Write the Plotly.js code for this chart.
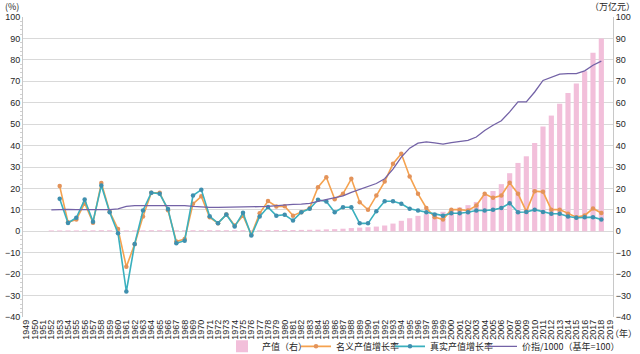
<!DOCTYPE html>
<html>
<head>
<meta charset="utf-8">
<script src="https://cdn.plot.ly/plotly-3.0.1.min.js"></script>
<style>html,body{margin:0;padding:0;background:#fff;}#chart{width:640px;height:354px;}</style>
</head>
<body>
<div id="chart"></div>
<script>
const years = [];
for (let y = 1949; y <= 2019; y++) years.push(String(y));

// 产值（右），万亿元 (1949–2019)
const output = [null,null,null,
  0.4,0.4,0.4,0.4,0.45,0.45,0.5,0.5,0.5,0.45,
  0.45,0.45,0.5,0.5,0.5,0.5,0.5,0.5,0.5,0.5,
  0.5,0.5,0.5,0.5,0.5,0.5,0.55,0.6,0.6,0.6,
  0.65,0.7,0.75,0.9,1.0,1.2,1.5,1.7,1.9,2.2,
  2.7,3.6,4.9,6.1,7.2,8.0,8.5,9.1,10.0,11.1,
  12.2,13.7,17.0,18.8,22.0,27.1,31.9,35.0,41.2,48.9,
  54.0,59.5,64.5,69.0,74.7,83.3,90.0,null];

// 名义产值增长率 (%)
const nominal = [null,null,null,null,
  21.1,4.2,5.5,13.1,4.0,22.5,9.2,1.1,-16.6,-6.0,
  6.9,18.0,18.0,9.8,-4.8,-3.6,12.8,16.3,6.5,3.8,
  7.8,2.7,7.3,-1.6,8.4,14.1,11.6,11.7,7.3,8.9,
  10.8,20.6,25.2,15.0,17.5,24.5,13.6,10.0,16.7,23.2,
  31.5,36.2,25.6,17.5,10.9,6.6,5.5,10.1,10.1,9.7,
  12.0,17.5,15.6,16.7,22.6,17.5,9.3,18.7,18.4,10.1,
  10.1,8.2,6.6,7.4,10.6,8.5,null];

// 真实产值增长率 (%)
const real = [null,null,null,null,
  15.2,3.9,6.3,14.8,4.5,21.4,8.9,-0.9,-28.1,-5.9,
  9.7,18.0,17.5,10.4,-5.6,-4.4,16.7,19.4,7.0,3.8,
  7.8,2.2,8.6,-2.0,6.9,11.3,7.3,7.7,5.0,8.9,
  10.5,14.7,13.9,8.9,11.2,11.2,3.7,3.7,9.4,14.0,
  14.0,12.8,10.5,9.7,8.9,7.8,7.3,8.4,8.4,8.9,
  9.7,9.7,10.0,10.9,13.1,8.9,9.0,10.1,9.0,8.2,
  8.2,6.9,6.3,6.6,6.6,5.5,null];

// 价指/1000（基年=100）
const priceIdx = [null,null,null,
  10.0,10.2,10.2,10.1,10.1,10.1,10.1,10.1,10.5,11.6,
  12.0,12.0,12.0,11.9,11.8,12.0,12.0,11.6,11.3,11.2,
  11.2,11.2,11.3,11.3,11.4,11.5,11.6,12.0,12.3,12.6,
  12.7,13.0,14.0,14.8,15.5,16.5,18.2,19.5,20.8,22.3,
  24.5,29.0,34.6,38.8,41.1,41.7,41.3,40.7,41.4,42.0,
  42.4,44.0,47.0,49.5,51.6,55.7,60.4,60.4,65.0,70.4,
  71.8,73.3,73.6,73.6,74.9,77.5,79.4,null];

const FONT = 'Liberation Sans, Arial, Noto Sans CJK SC, sans-serif';
const CJK = 'Noto Sans CJK SC, Liberation Sans, sans-serif';

const traces = [
  {type:'bar', name:'产值（右）', x:years, y:output, yaxis:'y', legend:'legend',
   marker:{color:'#f2bfda'}, hoverinfo:'skip'},
  {type:'scatter', mode:'lines+markers', name:'名义产值增长率', x:years, y:nominal, yaxis:'y2', legend:'legend2',
   line:{color:'#f5a24f', width:1.6}, marker:{color:'#e3935a', size:4.5, symbol:'circle'}},
  {type:'scatter', mode:'lines+markers', name:'真实产值增长率', x:years, y:real, yaxis:'y2', legend:'legend3',
   line:{color:'#3ab0be', width:1.6}, marker:{color:'#3f8fae', size:4.5, symbol:'circle'}},
  {type:'scatter', mode:'lines', name:'价指/1000（基年=100）', x:years, y:priceIdx, yaxis:'y2', legend:'legend4',
   line:{color:'#7362a6', width:1.3}}
];

// plot area: x 23..613 px, y 17..316.7 px
function leg(px) {
  return {orientation:'h', xref:'paper', yref:'paper', x:(px-23)/590, xanchor:'left',
    y:(316.7-346)/299.7, yanchor:'middle', font:{family:CJK, size:9, color:'#262626'},
    itemwidth:30, bgcolor:'rgba(0,0,0,0)', borderwidth:0};
}

const layout = {
  width:640, height:354,
  margin:{l:23, r:27, t:17, b:37, pad:0, autoexpand:false},
  paper_bgcolor:'#ffffff', plot_bgcolor:'#ffffff',
  font:{family:FONT, size:9, color:'#262626'},
  bargap:0.38,
  showlegend:true,
  legend:leg(222), legend2:leg(296), legend3:leg(390), legend4:leg(482),
  xaxis:{type:'category', categoryorder:'array', categoryarray:years,
    range:[-0.4, 70.4], tickmode:'linear', tick0:0, dtick:1, tickangle:-90,
    tickfont:{family:FONT, size:9, color:'#262626'}, showgrid:false, zeroline:false,
    showline:false, ticks:'', automargin:false, fixedrange:true},
  yaxis:{range:[-40,100], dtick:10, tick0:0, gridcolor:'#d9d9d9', gridwidth:1,
    zeroline:false, showline:true, linecolor:'#c8c8c8', linewidth:1, ticks:'',
    minor:{ticks:'outside', ticklen:2, dtick:2, tickcolor:'#d0d0d0', showgrid:false},
    tickfont:{family:FONT, size:9, color:'#262626'}, automargin:false, fixedrange:true},
  yaxis2:{range:[-40,100], dtick:10, tick0:0, overlaying:'y', side:'right', showgrid:false,
    zeroline:false, showline:true, linecolor:'#c8c8c8', linewidth:1, ticks:'',
    tickfont:{family:FONT, size:9, color:'#262626'}, automargin:false, fixedrange:true},
  annotations:[
    {text:'(%)', xref:'paper', yref:'paper', x:-0.019, y:1.036, xanchor:'center', yanchor:'middle',
     showarrow:false, font:{family:CJK, size:9, color:'#262626'}},
    {text:'（万亿元）', xref:'paper', yref:'paper', x:1.04, y:1.036, xanchor:'right', yanchor:'middle',
     showarrow:false, font:{family:CJK, size:9, color:'#262626'}},
    {text:'（年）', xref:'paper', yref:'paper', x:(639-23)/590, y:(316.7-333)/299.7, xanchor:'right', yanchor:'middle',
     showarrow:false, font:{family:CJK, size:9, color:'#262626'}}
  ]
};

Plotly.newPlot('chart', traces, layout, {displayModeBar:false, staticPlot:true});
</script>
</body>
</html>
